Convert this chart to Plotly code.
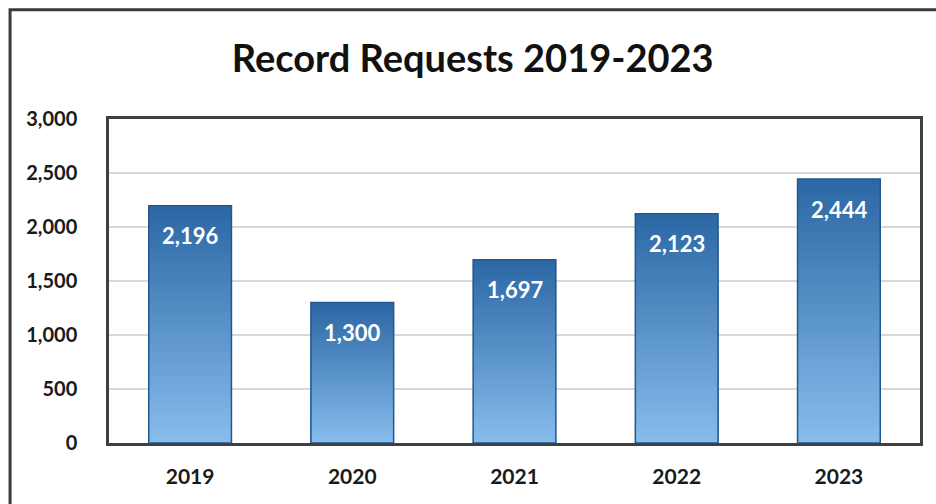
import plotly.graph_objects as go

# Record request counts per year
years = ["2019", "2020", "2021", "2022", "2023"]
requests = [2196, 1300, 1697, 2123, 2444]
y_ticks = [0, 500, 1000, 1500, 2000, 2500, 3000]

FONT = "Lato"
TOP_RGB = (44, 104, 165)     # dark blue at the top of each bar
BOTTOM_RGB = (134, 188, 236)  # light blue at the base
LAYERS = 36


def blend(t):
    r, g, b = (round(a + (c - a) * t) for a, c in zip(TOP_RGB, BOTTOM_RGB))
    return f"rgb({r},{g},{b})"


fig = go.Figure()

# Vertical gradient on every bar: overlaid bars of decreasing height,
# each a little lighter than the one behind it.
for k in range(LAYERS):
    frac = (LAYERS - k) / LAYERS
    fig.add_trace(go.Bar(
        x=years,
        y=[v * frac for v in requests],
        marker=dict(color=blend(k / (LAYERS - 1)),
                    line=dict(width=0)),
        hoverinfo="skip",
        showlegend=False,
    ))

# Thin darker outline around each full bar
fig.add_trace(go.Bar(
    x=years,
    y=requests,
    marker=dict(color="rgba(0,0,0,0)",
                line=dict(color="rgb(36,88,140)", width=1.5)),
    hovertemplate="%{x}: %{y:,}<extra></extra>",
    showlegend=False,
))

# Value labels just inside the top of each bar (x given as category index)
for i, v in enumerate(requests):
    fig.add_annotation(
        x=i, y=v, yshift=-30, text=f"{v:,}", showarrow=False,
        font=dict(family=FONT, size=22, color="white", weight="bold"),
    )

# Outer chart border
fig.add_shape(type="rect", xref="paper", yref="paper",
              x0=-0.122, x1=1.05, y0=-0.3, y1=1.337,
              line=dict(color="#3a3a3a", width=3), layer="below")

fig.update_layout(
    width=936, height=504,
    margin=dict(l=109, r=16, t=119, b=61),
    paper_bgcolor="white",
    plot_bgcolor="white",
    barmode="overlay",
    bargap=0.49,
    title=dict(
        text="Record Requests 2019-2023",
        x=0.505, xref="container", xanchor="center",
        y=0.883, yref="container", yanchor="middle",
        font=dict(family=FONT, size=38, color="#111111", weight="bold"),
    ),
    font=dict(family=FONT, color="#1a1a1a"),
)

fig.update_xaxes(
    type="category",
    categoryorder="array", categoryarray=years,
    range=[-0.5, len(years) - 0.5],
    showline=True, mirror=True, linecolor="#404040", linewidth=2.5,
    showgrid=False, ticks="",
    ticklabelstandoff=13,
    tickfont=dict(family=FONT, size=21, color="#1a1a1a", weight="bold"),
)
fig.update_yaxes(
    range=[0, 3000],
    tickvals=y_ticks,
    tickformat=",",
    showline=True, mirror=True, linecolor="#404040", linewidth=2.5,
    showgrid=True, gridcolor="#d9d9d9", gridwidth=2,
    zeroline=False, ticks="",
    ticklabelstandoff=25,
    tickfont=dict(family=FONT, size=20, color="#1a1a1a", weight="bold"),
)

fig.write_html("out.html")
